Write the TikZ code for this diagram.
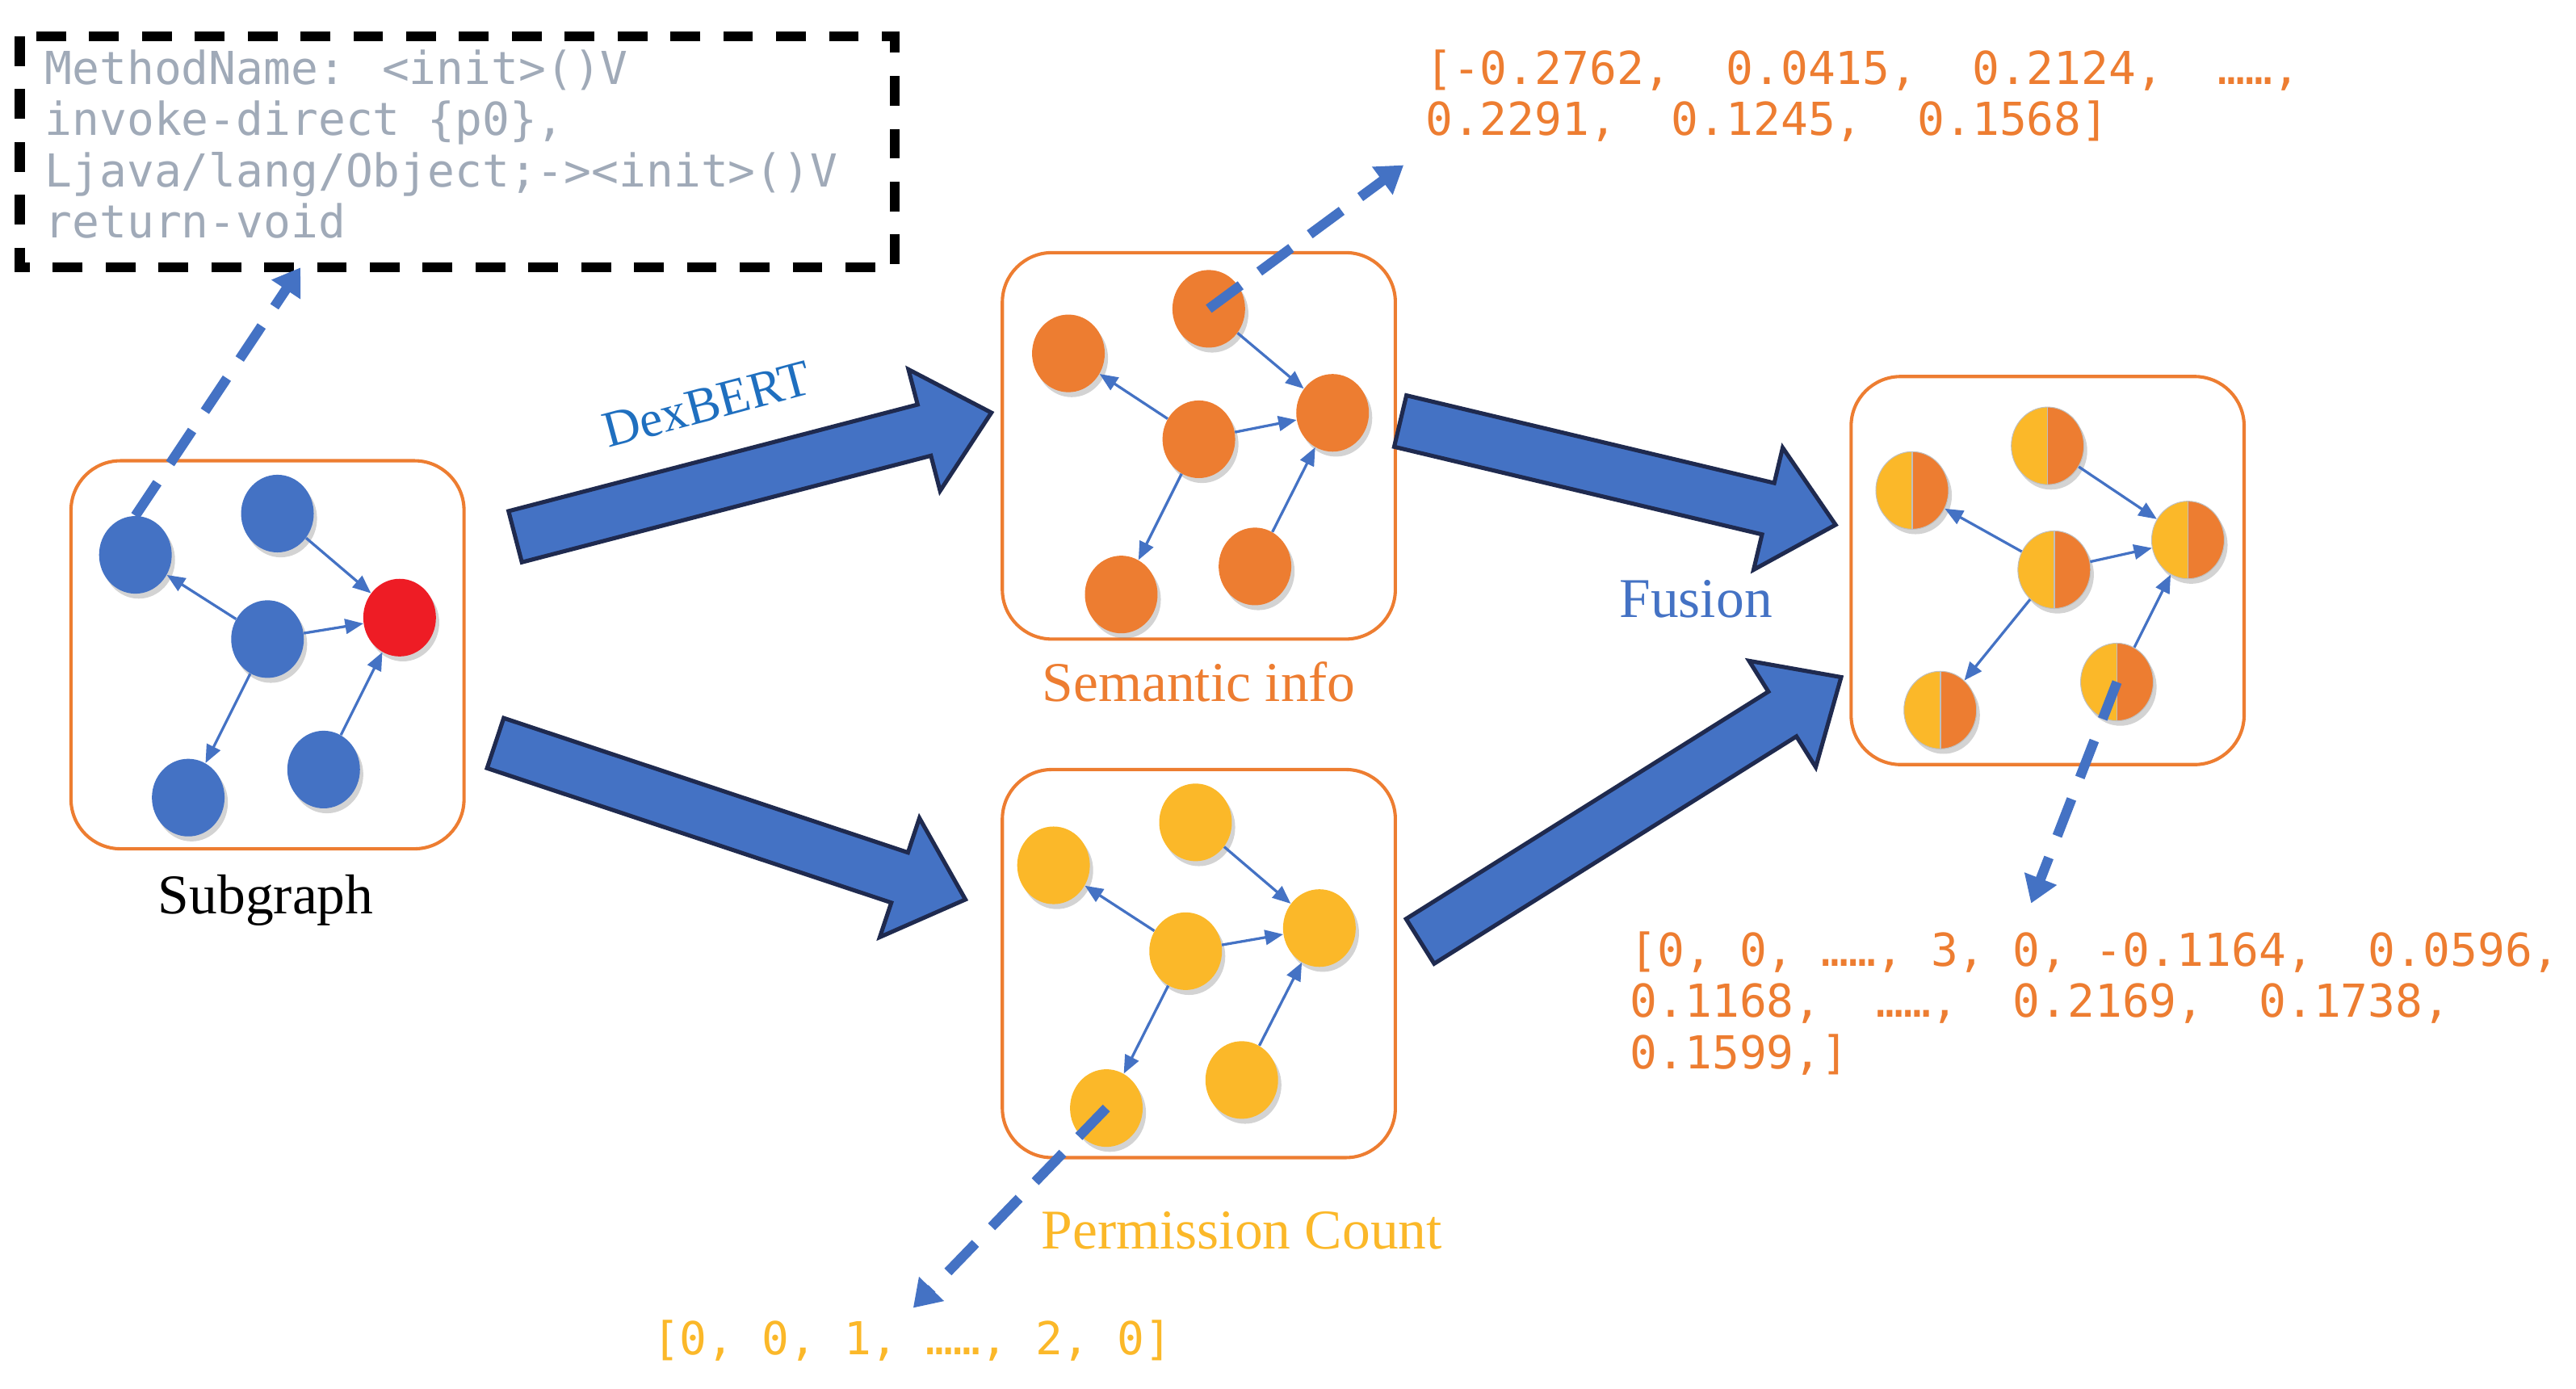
\documentclass[tikz,border=0pt]{standalone}
\usepackage{fontspec}
\setmainfont{Liberation Serif}
\newfontfamily\codefont{DejaVu Sans Mono}
\usetikzlibrary{arrows.meta,shapes.geometric,shadows}
\definecolor{cblue}{HTML}{4472C4}
\definecolor{cnavy}{HTML}{1F2A4F}
\definecolor{corange}{HTML}{ED7D31}
\definecolor{cyellow}{HTML}{FBB829}
\definecolor{cred}{HTML}{EE1C25}
\definecolor{cgray}{HTML}{A0AAB8}
\definecolor{cdex}{HTML}{1F6FBF}
\tikzset{
  box/.style={draw=corange,line width=2pt,rounded corners=30pt},
  nd/.style={ellipse,minimum width=44pt,minimum height=47pt,inner sep=0pt,
     drop shadow={opacity=0.35,shadow xshift=2pt,shadow yshift=-3pt}},
  bn/.style={nd,fill=cblue},
  on/.style={nd,fill=corange},
  yn/.style={nd,fill=cyellow},
  hn/.style={nd,fill=cyellow,draw=black!25,line width=0.5pt,path picture={
     \fill[corange] (path picture bounding box.north) rectangle (path picture bounding box.south east);
     \draw[black!25,line width=0.8pt] (path picture bounding box.north) -- (path picture bounding box.south);}},
  ed/.style={draw=cblue,line width=1.6pt,-{Triangle[length=11pt,width=9pt]}},
  dsh/.style={draw=cblue,line width=6pt,dash pattern=on 24pt off 14pt,-{Triangle[length=16pt,width=20pt]}},
  lbl/.style={font=\fontsize{34}{38}\selectfont},
  code/.style={font=\codefont\fontsize{27.5}{31}\selectfont,align=left,anchor=north west,inner sep=0pt},
}
\newcommand{\fatarrow}[4]{% x,y,angle,length
  \begin{scope}[shift={(#1,#2)},rotate=#3]
  \filldraw[fill=cblue,draw=cnavy,line width=2.5pt,line join=miter]
   (0pt,-16pt)--(#4pt-42pt,-16pt)--(#4pt-42pt,-38pt)--(#4pt,0pt)--(#4pt-42pt,38pt)--(#4pt-42pt,16pt)--(0pt,16pt)--cycle;
  \end{scope}}
\begin{document}
\begin{tikzpicture}[x=1pt,y=-1pt]
\useasboundingbox (0,0) rectangle (1560,841);
% code box
\draw[line width=6pt,dash pattern=on 18pt off 14pt] (12,22) rectangle (542,162);
\node[code,text=cgray] (code) at (27,30) {MethodName: <init>()V\\invoke-direct \{p0\},\\Ljava/lang/Object;->{}<init>()V\\return-void};
% subgraph
\node[box,minimum width=238pt,minimum height=235pt] (sg) at (162,396.5) {};
\node[lbl] (sgl) at (161,545) {Subgraph};
\node[bn] (a1) at (82,336) {};
\node[bn] (a2) at (168,311) {};
\node[bn] (a3) at (162,387) {};
\node[nd,fill=cred] (a4) at (242,374) {};
\node[bn] (a5) at (114,483) {};
\node[bn] (a6) at (196,466) {};
\draw[ed] (a2)--(a4); \draw[ed] (a3)--(a1); \draw[ed] (a3)--(a4); \draw[ed] (a3)--(a5); \draw[ed] (a6)--(a4);
\coordinate (c1) at (182,162);
\draw[dsh] (a1.north) -- (c1);
% semantic
\node[box,minimum width=238pt,minimum height=234pt] (sb) at (726,270) {};
\node[lbl,text=corange] (sbl) at (726,413) {Semantic info};
\node[on] (b2) at (732,187) {};
\node[on] (b1) at (647,214) {};
\node[on] (b3) at (726,266) {};
\node[on] (b4) at (807,250) {};
\node[on] (b5) at (679,360) {};
\node[on] (b6) at (760,343) {};
\draw[ed] (b2)--(b4); \draw[ed] (b3)--(b1); \draw[ed] (b3)--(b4); \draw[ed] (b3)--(b5); \draw[ed] (b6)--(b4);
\coordinate (c2) at (850,100);
\draw[dsh] (b2.center) -- (c2);
\node[code,text=corange] (v1) at (863,30) {[-0.2762,\ \ 0.0415,\ \ 0.2124,\ \ ……,\\0.2291,\ \ 0.1245,\ \ 0.1568]};
% permission
\node[box,minimum width=238pt,minimum height=235pt] (pb) at (726,583.5) {};
\node[lbl,text=cyellow] (pbl) at (752,745) {Permission Count};
\node[yn] (p2) at (724,498) {};
\node[yn] (p1) at (638,524) {};
\node[yn] (p3) at (718,576) {};
\node[yn] (p4) at (799,562) {};
\node[yn] (p5) at (670,671) {};
\node[yn] (p6) at (752,654) {};
\draw[ed] (p2)--(p4); \draw[ed] (p3)--(p1); \draw[ed] (p3)--(p4); \draw[ed] (p3)--(p5); \draw[ed] (p6)--(p4);
\coordinate (c3) at (553,792);
\draw[dsh] (p5.center) -- (c3);
\node[code,text=cyellow] (v2) at (395,799) {[0, 0, 1, ……, 2, 0]};
% fusion
\node[box,minimum width=238pt,minimum height=235pt] (fb) at (1240,345.5) {};
\node[lbl,text=cblue] (fl) at (1027,363) {Fusion};
\node[hn] (f2) at (1240,270) {};
\node[hn] (f1) at (1158,297) {};
\node[hn] (f3) at (1244,345) {};
\node[hn] (f4) at (1325,327) {};
\node[hn] (f5) at (1175,430) {};
\node[hn] (f6) at (1282,413) {};
\draw[ed] (f2)--(f4); \draw[ed] (f3)--(f1); \draw[ed] (f3)--(f4); \draw[ed] (f3)--(f5); \draw[ed] (f6)--(f4);
\coordinate (c4) at (1230,547);
\draw[dsh] (f6.center) -- (c4);
\node[code,text=corange] (v3) at (987,564) {[0, 0, ……, 3, 0, -0.1164,\ \ 0.0596,\\0.1168,\ \ ……,\ \ 0.2169,\ \ 0.1738,\\0.1599,]};
% big arrows
\fatarrow{312}{325}{14.6}{298}
\fatarrow{300}{450}{-18.4}{300}
\fatarrow{848}{255}{-13.4}{271}
\fatarrow{860}{570}{32.1}{301}
\node[lbl,text=cdex,rotate=15,font=\fontsize{31}{36}\selectfont] (dex) at (428,245) {DexBERT};
\end{tikzpicture}
\end{document}
